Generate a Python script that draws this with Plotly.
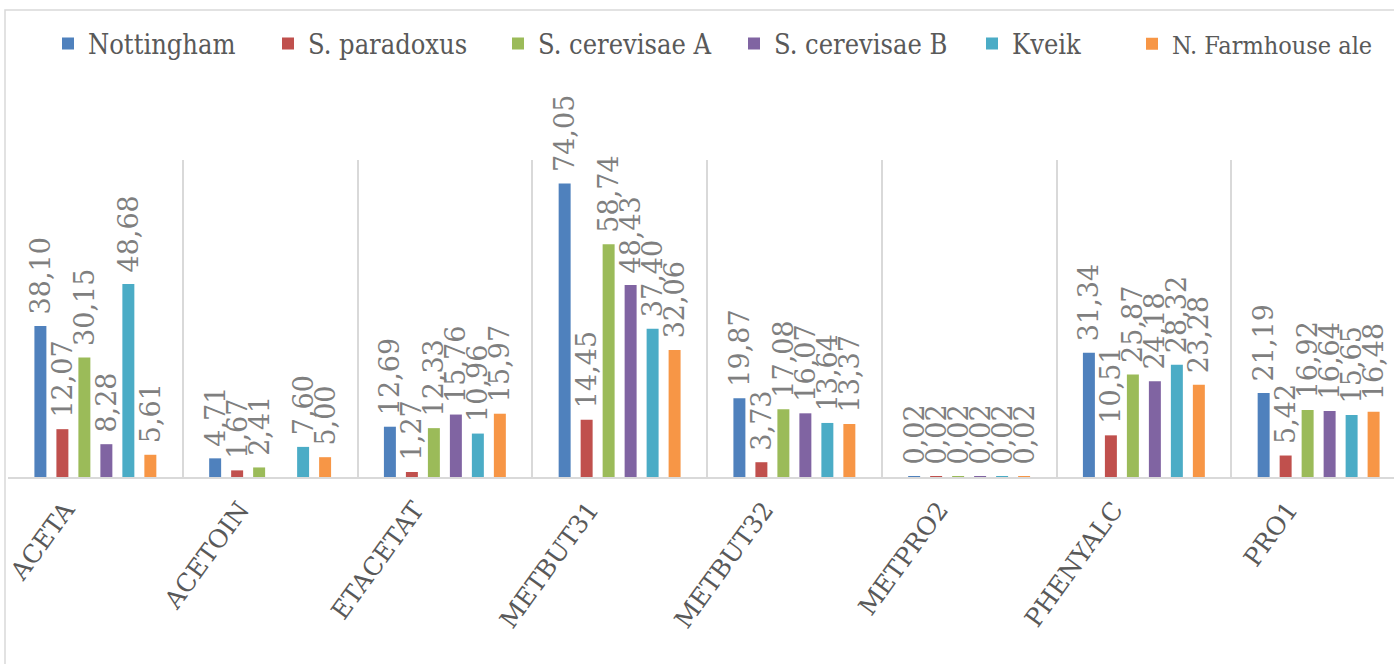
import plotly.graph_objects as go

# Compounds (categories) and strain series
compounds = ["ACETA", "ACETOIN", "ETACETAT", "METBUT31", "METBUT32", "METPRO2", "PHENYALC", "PRO1"]

nottingham = [38.10, 4.71, 12.69, 74.05, 19.87, 0.02, 31.34, 21.19]
s_paradoxus = [12.07, 1.67, 1.27, 14.45, 3.73, 0.02, 10.51, 5.42]
s_cerevisae_a = [30.15, 2.41, 12.33, 58.74, 17.08, 0.02, 25.87, 16.92]
s_cerevisae_b = [8.28, None, 15.76, 48.43, 16.07, 0.02, 24.18, 16.64]
kveik = [48.68, 7.60, 10.96, 37.40, 13.64, 0.02, 28.32, 15.65]
n_farmhouse = [5.61, 5.00, 15.97, 32.06, 13.37, 0.02, 23.28, 16.48]

series = [
    ("Nottingham", nottingham, "#4f81bd"),
    ("S. paradoxus", s_paradoxus, "#c0504d"),
    ("S. cerevisae A", s_cerevisae_a, "#9bbb59"),
    ("S. cerevisae B", s_cerevisae_b, "#8064a2"),
    ("Kveik", kveik, "#4bacc6"),
    ("N. Farmhouse ale", n_farmhouse, "#f79646"),
]

SERIF = "DejaVu Serif"
SERIF_NARROW = "DejaVu Serif Condensed, DejaVu Serif"

W, H = 1394, 664
ml, mr, mt, mb = 8, 0, 160, 187
plot_h = H - mt - mb
plot_w = W - ml - mr

# left edge (px) of each legend entry's swatch, one legend per series
legend_swatch_px = [62, 282, 512, 748, 986, 1146]


def fmt(v):
    # decimal comma; a leading no-break space lifts the label off the bar top
    return "" if v is None else "\u00a0" + f"{v:.2f}".replace(".", ",")


fig = go.Figure()
for i, (name, vals, color) in enumerate(series):
    fig.add_trace(go.Bar(
        name=name,
        x=compounds,
        y=vals,
        legend="legend" if i == 0 else f"legend{i + 1}",
        marker=dict(color=color, line=dict(width=0)),
        text=[fmt(v) for v in vals],
        textposition="outside",
        textangle=-90,
        constraintext="none",
        cliponaxis=False,
        textfont=dict(family=SERIF, size=27, color="#7f7f7f"),
    ))

legend_y = (mt + plot_h - 44) / plot_h
legends = {}
for i, px in enumerate(legend_swatch_px):
    key = "legend" if i == 0 else f"legend{i + 1}"
    legends[key] = dict(
        orientation="h",
        x=(px - 14 - ml) / plot_w, xanchor="left",
        y=legend_y, yanchor="middle",
        font=dict(family=SERIF_NARROW, size=27 if i < 5 else 25, color="#595959"),
        itemwidth=30,
        bgcolor="rgba(0,0,0,0)",
    )

# last category is partially cut by the right edge
cat_px = 174.75
x_hi = -0.5 + plot_w / cat_px

fig.update_layout(
    width=W, height=H,
    margin=dict(l=ml, r=mr, t=mt, b=mb, pad=0),
    paper_bgcolor="white",
    plot_bgcolor="white",
    barmode="group",
    bargap=0.245,
    bargroupgap=0.455,
    showlegend=True,
    **legends,
    xaxis=dict(
        range=[-0.5, x_hi],
        tickson="boundaries",
        ticks="",
        showgrid=True,
        gridcolor="#d9d9d9",
        gridwidth=1.5,
        showline=True,
        linecolor="#d9d9d9",
        linewidth=2,
        tickangle=-54,
        ticklabelshift=-30,
        ticklabelstandoff=6,
        tickfont=dict(family=SERIF, size=25, color="#595959"),
    ),
    yaxis=dict(
        range=[0, 80],
        showgrid=False,
        zeroline=False,
        showticklabels=False,
        showline=False,
    ),
    shapes=[
        # outer chart frame
        dict(
            type="rect", xref="paper", yref="paper",
            x0=-3 / plot_w, x1=1.2,
            y0=-1.0, y1=(plot_h + mt - 10) / plot_h,
            line=dict(color="#d9d9d9", width=1.5),
            fillcolor="rgba(0,0,0,0)",
            layer="below",
        )
    ],
)

fig.write_html("out.html")
